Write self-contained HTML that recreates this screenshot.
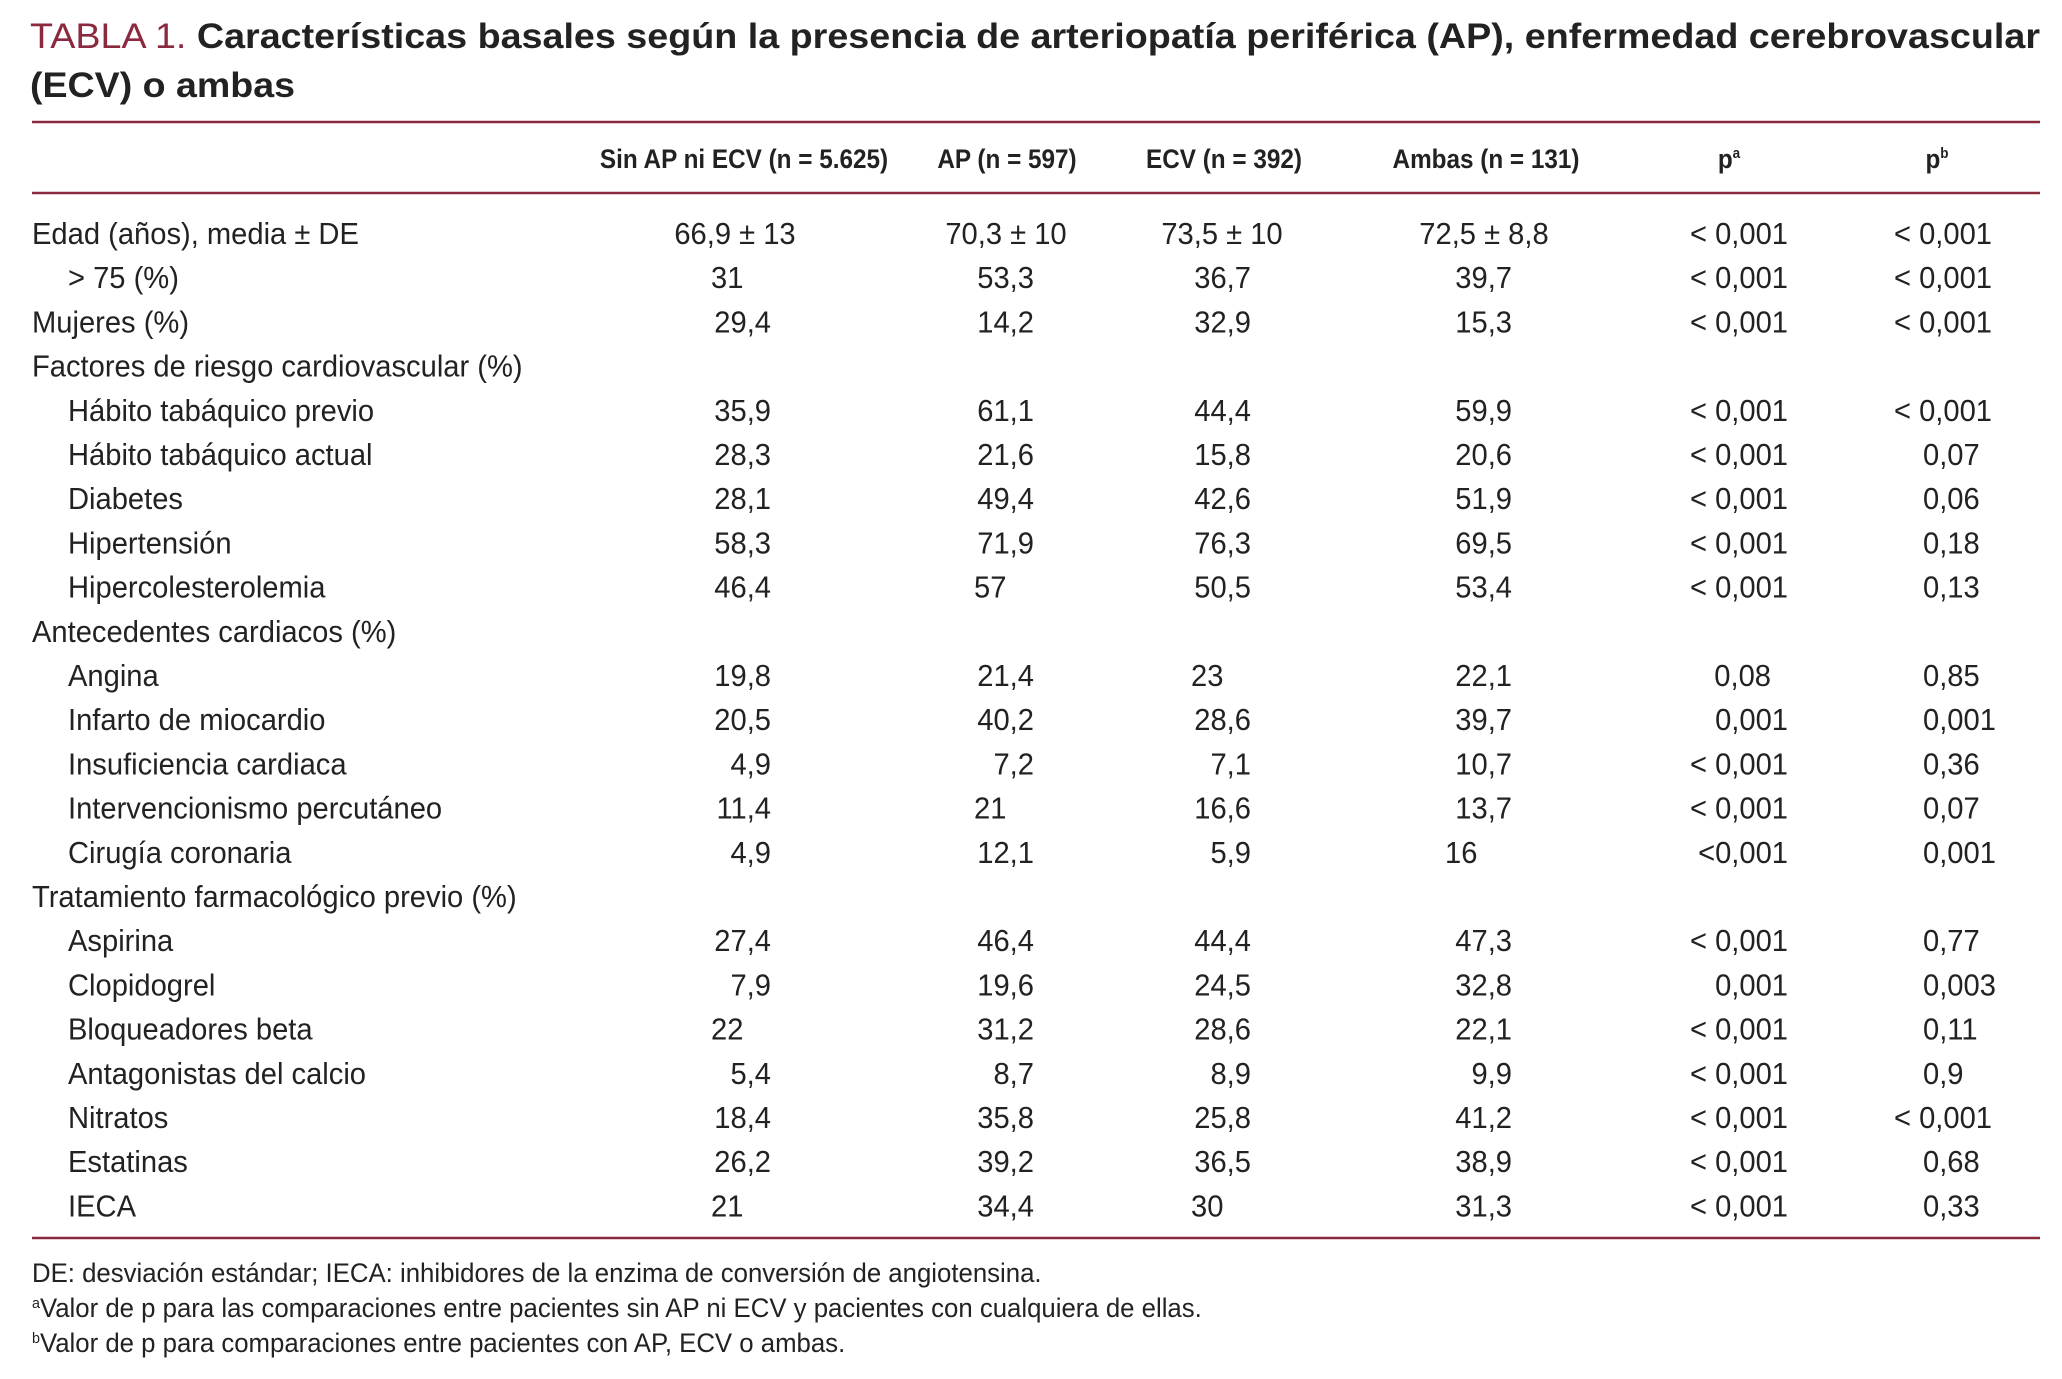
<!DOCTYPE html>
<html><head><meta charset="utf-8"><style>
html,body{margin:0;padding:0;background:#fff;}
svg{display:block;font-family:"Liberation Sans",sans-serif;}
</style></head><body>
<svg id="s" width="2062" height="1379" viewBox="0 0 2062 1379" xmlns="http://www.w3.org/2000/svg">
<text x="30" y="48" font-size="35" font-weight="bold" fill="#222" textLength="2010" lengthAdjust="spacingAndGlyphs"><tspan fill="#8b2a3e" font-weight="normal">TABLA 1.</tspan> Características basales según la presencia de arteriopatía periférica (AP), enfermedad cerebrovascular</text>
<text x="30" y="97" font-size="35" font-weight="bold" fill="#222" textLength="265" lengthAdjust="spacingAndGlyphs">(ECV) o ambas</text>
<line x1="32" y1="122" x2="2040" y2="122" stroke="#8b2a3e" stroke-width="2.5"/>
<line x1="32" y1="193" x2="2040" y2="193" stroke="#8b2a3e" stroke-width="2.5"/>
<line x1="32" y1="1238" x2="2040" y2="1238" stroke="#8b2a3e" stroke-width="2.5"/>
<g id="body"></g>
</svg>
<script>
const headers = ["Sin AP ni ECV (n = 5.625)","AP (n = 597)","ECV (n = 392)","Ambas (n = 131)","p","p"];
const headerSup = ["","","","","a","b"];
const labels = ["Edad (años), media ± DE","> 75 (%)","Mujeres (%)","Factores de riesgo cardiovascular (%)","Hábito tabáquico previo","Hábito tabáquico actual","Diabetes","Hipertensión","Hipercolesterolemia","Antecedentes cardiacos (%)","Angina","Infarto de miocardio","Insuficiencia cardiaca","Intervencionismo percutáneo","Cirugía coronaria","Tratamiento farmacológico previo (%)","Aspirina","Clopidogrel","Bloqueadores beta","Antagonistas del calcio","Nitratos","Estatinas","IECA"];
const indent = [0,1,0,0,1,1,1,1,1,0,1,1,1,1,1,0,1,1,1,1,1,1,1];
const sinAP = ["66,9 ± 13","31","29,4","","35,9","28,3","28,1","58,3","46,4","","19,8","20,5","4,9","11,4","4,9","","27,4","7,9","22","5,4","18,4","26,2","21"];
const ap = ["70,3 ± 10","53,3","14,2","","61,1","21,6","49,4","71,9","57","","21,4","40,2","7,2","21","12,1","","46,4","19,6","31,2","8,7","35,8","39,2","34,4"];
const ecv = ["73,5 ± 10","36,7","32,9","","44,4","15,8","42,6","76,3","50,5","","23","28,6","7,1","16,6","5,9","","44,4","24,5","28,6","8,9","25,8","36,5","30"];
const ambas = ["72,5 ± 8,8","39,7","15,3","","59,9","20,6","51,9","69,5","53,4","","22,1","39,7","10,7","13,7","16","","47,3","32,8","22,1","9,9","41,2","38,9","31,3"];
const pA = ["< 0,001","< 0,001","< 0,001","","< 0,001","< 0,001","< 0,001","< 0,001","< 0,001","","0,08","0,001","< 0,001","< 0,001","<0,001","","< 0,001","0,001","< 0,001","< 0,001","< 0,001","< 0,001","< 0,001"];
const pB = ["< 0,001","< 0,001","< 0,001","","< 0,001","0,07","0,06","0,18","0,13","","0,85","0,001","0,36","0,07","0,001","","0,77","0,003","0,11","0,9","< 0,001","0,68","0,33"];
const footnotes = ["DE: desviación estándar; IECA: inhibidores de la enzima de conversión de angiotensina.","Valor de p para las comparaciones entre pacientes sin AP ni ECV y pacientes con cualquiera de ellas.","Valor de p para comparaciones entre pacientes con AP, ECV o ambas."];
const footSup = ["","a","b"];

const NS="http://www.w3.org/2000/svg";
const body=document.getElementById('body');
function txt(x,y,s,anchor,size,name,weight,sx){
  const t=document.createElementNS(NS,'text');
  t.setAttribute('x',x/sx);t.setAttribute('y',y);
  t.setAttribute('transform','scale('+sx+',1)');
  t.setAttribute('font-size',size);t.setAttribute('fill','#222');
  t.setAttribute('text-anchor',anchor);
  if(weight)t.setAttribute('font-weight',weight);
  t.textContent=s;
  
  
  body.appendChild(t);return t;
}
const SX=0.94;
const hdrX=[744,1007,1224,1486,1729,1937];
headers.forEach((h,i)=>{
  const t=txt(hdrX[i],168,h,'middle',27,'column-header','bold',0.9);
  if(headerSup[i]){const sp=document.createElementNS(NS,'tspan');sp.setAttribute('font-size','15');sp.setAttribute('dy','-10');sp.textContent=headerSup[i];t.appendChild(sp);}
});
const cols=[{v:sinAP,x0:711,x1:771,c:735},{v:ap,x0:974,x1:1034,c:1006},{v:ecv,x0:1191,x1:1251,c:1222},{v:ambas,x0:1445,x1:1512,c:1484}];
const fs=31;
labels.forEach((l,i)=>{
  const y=233+44.2*i+11;
  txt(indent[i]?68:32,y,l,'start',fs,'row-label',null,SX);
  cols.forEach(c=>{
    const v=c.v[i]; if(!v)return;
    if(v.indexOf('±')>=0) txt(c.c,y,v,'middle',fs,'cell-value',null,SX);
    else if(v.indexOf(',')>=0) txt(c.x1,y,v,'end',fs,'cell-value',null,SX);
    else txt(c.x0,y,v,'start',fs,'cell-value',null,SX);
  });
  if(pA[i]) txt(pA[i]==='0,08'?1771:1788,y,pA[i],'end',fs,'p-value-a',null,SX);
  if(pB[i]) txt(pB[i][0]==='<'?1894:1923,y,pB[i],'start',fs,'p-value-b',null,SX);
});
footnotes.forEach((f,i)=>{
  const y=1273+35*i+9;
  const t=txt(32,y,'','start',27,'footnote',null,0.955);
  if(footSup[i]){const sp=document.createElementNS(NS,'tspan');sp.setAttribute('font-size','15');sp.setAttribute('dy','-9');sp.textContent=footSup[i];t.appendChild(sp);
    const r=document.createElementNS(NS,'tspan');r.setAttribute('dy','9');r.textContent=f;t.appendChild(r);}
  else t.textContent=f;
});
</script>
</body></html>
